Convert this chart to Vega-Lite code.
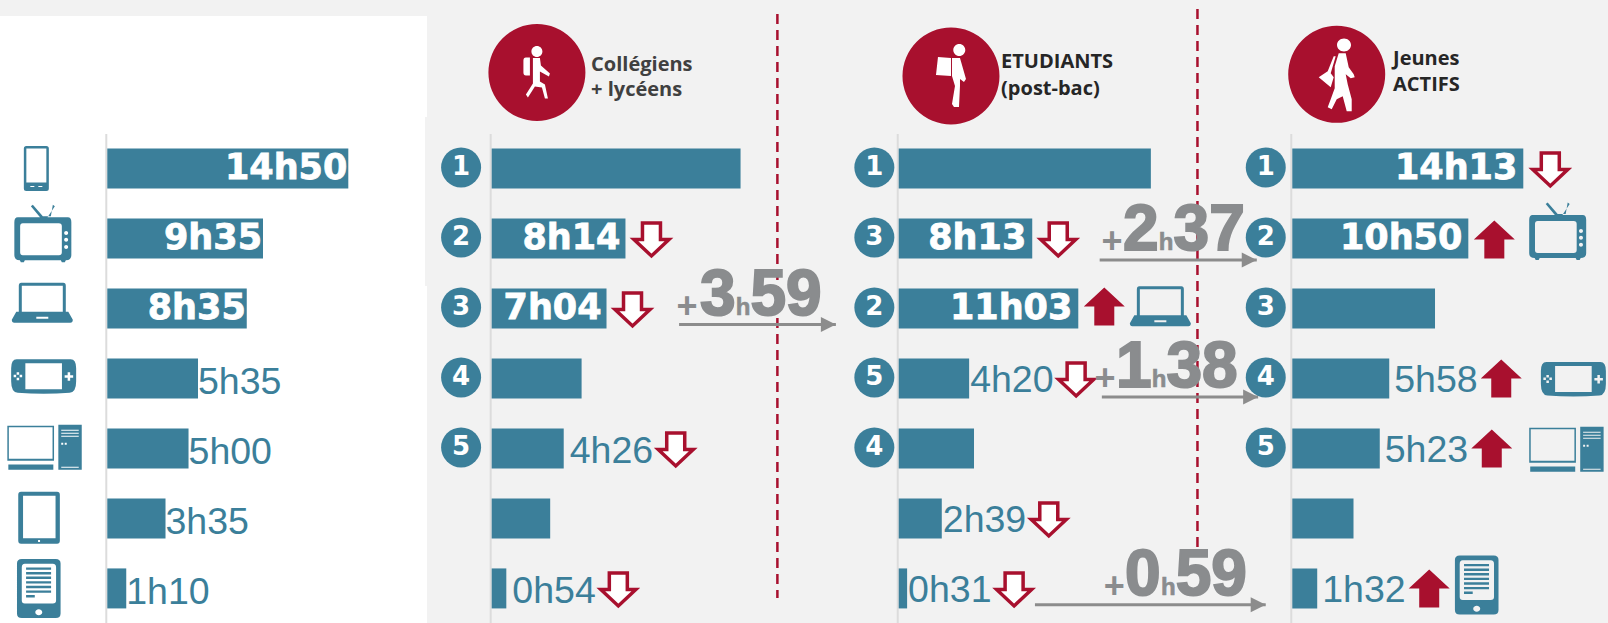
{
"$schema":"https://vega.github.io/schema/vega-lite/v6.json",
"background":"#f2f2f2","padding":0,"spacing":0,"bounds":"flush",
"config":{"view":{"stroke":null},"text":{"font":"Liberation Sans"}},
"datasets":{
"bars":[
{"panel":"A","row":1,"minutes":890,"label":"14h50","place":"in"},
{"panel":"A","row":2,"minutes":575,"label":"9h35","place":"in"},
{"panel":"A","row":3,"minutes":515,"label":"8h35","place":"in"},
{"panel":"A","row":4,"minutes":335,"label":"5h35","place":"out"},
{"panel":"A","row":5,"minutes":300,"label":"5h00","place":"out"},
{"panel":"A","row":6,"minutes":215,"label":"3h35","place":"out"},
{"panel":"A","row":7,"minutes":70,"label":"1h10","place":"out"},
{"panel":"B","row":1,"minutes":919},
{"panel":"B","row":2,"minutes":494,"label":"8h14","place":"in","trend":"down"},
{"panel":"B","row":3,"minutes":424,"label":"7h04","place":"in","trend":"down"},
{"panel":"B","row":4,"minutes":332},
{"panel":"B","row":5,"minutes":266,"label":"4h26","place":"out","trend":"down"},
{"panel":"B","row":6,"minutes":216},
{"panel":"B","row":7,"minutes":54,"label":"0h54","place":"out","trend":"down"},
{"panel":"C","row":1,"minutes":931},
{"panel":"C","row":2,"minutes":493,"label":"8h13","place":"in","trend":"down"},
{"panel":"C","row":3,"minutes":663,"label":"11h03","place":"in","trend":"up"},
{"panel":"C","row":4,"minutes":260,"label":"4h20","place":"out","trend":"down"},
{"panel":"C","row":5,"minutes":278},
{"panel":"C","row":6,"minutes":159,"label":"2h39","place":"out","trend":"down"},
{"panel":"C","row":7,"minutes":31,"label":"0h31","place":"out","trend":"down"},
{"panel":"D","row":1,"minutes":853,"label":"14h13","place":"in","trend":"down"},
{"panel":"D","row":2,"minutes":650,"label":"10h50","place":"in","trend":"up"},
{"panel":"D","row":3,"minutes":527},
{"panel":"D","row":4,"minutes":358,"label":"5h58","place":"out","trend":"up"},
{"panel":"D","row":5,"minutes":323,"label":"5h23","place":"out","trend":"up"},
{"panel":"D","row":6,"minutes":226},
{"panel":"D","row":7,"minutes":92,"label":"1h32","place":"out","trend":"up"}
],
"ranks":[
{"panel":"B","row":1,"minutes":-113,"rank":"1"},{"panel":"B","row":2,"minutes":-113,"rank":"2"},{"panel":"B","row":3,"minutes":-113,"rank":"3"},{"panel":"B","row":4,"minutes":-113,"rank":"4"},{"panel":"B","row":5,"minutes":-113,"rank":"5"},
{"panel":"C","row":1,"minutes":-90,"rank":"1"},{"panel":"C","row":2,"minutes":-90,"rank":"3"},{"panel":"C","row":3,"minutes":-90,"rank":"2"},{"panel":"C","row":4,"minutes":-90,"rank":"5"},{"panel":"C","row":5,"minutes":-90,"rank":"4"},
{"panel":"D","row":1,"minutes":-98,"rank":"1"},{"panel":"D","row":2,"minutes":-98,"rank":"2"},{"panel":"D","row":3,"minutes":-98,"rank":"3"},{"panel":"D","row":4,"minutes":-98,"rank":"4"},{"panel":"D","row":5,"minutes":-98,"rank":"5"}
],
"icons":[
{"panel":"A","row":1,"minutes":-262,"icon":"phone"},
{"panel":"A","row":1.94,"minutes":-238,"icon":"tv"},
{"panel":"A","row":2.92,"minutes":-240,"icon":"laptop"},
{"panel":"A","row":3.97,"minutes":-235,"icon":"console"},
{"panel":"A","row":4.99,"minutes":-231,"icon":"desktop"},
{"panel":"A","row":5.99,"minutes":-252,"icon":"tablet"},
{"panel":"A","row":7,"minutes":-253,"icon":"ereader"},
{"panel":"C","row":2.97,"minutes":966,"icon":"laptop"},
{"panel":"D","row":1.91,"minutes":980,"icon":"tv"},
{"panel":"D","row":4.01,"minutes":1038,"icon":"console"},
{"panel":"D","row":5.02,"minutes":1013,"icon":"desktop"},
{"panel":"D","row":6.95,"minutes":681,"icon":"ereader"}
],
"gains":[
{"panel":"B","row":3.231,"minutes":928,"start":692,"end":1271,"hours":"3","mins":"59"},
{"panel":"C","row":2.309,"minutes":987,"start":742,"end":1322,"hours":"2","mins":"37"},
{"panel":"C","row":4.266,"minutes":961,"start":750,"end":1327,"hours":"1","mins":"38"},
{"panel":"C","row":7.233,"minutes":995,"start":503,"end":1355,"hours":"0","mins":"59"}
],
"headers":[
{"panel":"B","row":-0.396,"minutes":367,"line":"Collégiens"},
{"panel":"B","row":-0.034,"minutes":367,"line":"+ lycéens"},
{"panel":"C","row":-0.43,"minutes":378,"line":"ETUDIANTS"},
{"panel":"C","row":-0.056,"minutes":378,"line":"(post-bac)"},
{"panel":"D","row":-0.477,"minutes":372,"line":"Jeunes"},
{"panel":"D","row":-0.106,"minutes":372,"line":"ACTIFS"}
],
"persons":[
{"panel":"B","row":-0.37,"minutes":167},
{"panel":"C","row":-0.32,"minutes":193},
{"panel":"D","row":-0.344,"minutes":164}
],
"spines":[
{"panel":"A","minutes":0,"row":0.509,"rowEnd":7.494},
{"panel":"B","minutes":0,"row":0.509,"rowEnd":7.494},
{"panel":"C","minutes":0,"row":0.509,"rowEnd":7.494},
{"panel":"D","minutes":0,"row":0.509,"rowEnd":7.494}
],
"dividers":[
{"panel":"B","minutes":1055,"row":-1.206,"rowEnd":7.137},
{"panel":"C","minutes":1103,"row":-1.277,"rowEnd":6.537}
],
"sheets":[
{"minutes":-396.2,"end":1180.6,"row":-1.177,"rowEnd":0.266},
{"minutes":-396.2,"end":1173,"row":0.266,"rowEnd":2.68},
{"minutes":-396.2,"end":1180.6,"row":2.68,"rowEnd":7.494}
]
},
"hconcat":[
{"width":427,"height":623,
"encoding":{
"x":{"field":"minutes","type":"quantitative","axis":null,"scale":{"domain":[-396.2,1180.6],"nice":false,"zero":false}},
"y":{"field":"row","type":"quantitative","axis":null,"scale":{"domain":[-1.406,7.494],"reverse":true,"nice":false,"zero":false,"padding":0}}},
"layer":[
{"data":{"name":"sheets"},"mark":{"type":"rect","fill":"#ffffff"},"encoding":{"x2":{"field":"end"},"y2":{"field":"rowEnd"}}},
{"data":{"name":"spines"},"transform":[{"filter":"datum.panel==='A'"}],"mark":{"type":"rule","color":"#dcdcdc","strokeWidth":2,"xOffset":-1},"encoding":{"y2":{"field":"rowEnd"}}},
{"data":{"name":"bars"},"transform":[{"filter":"datum.panel==='A'"}],"mark":{"type":"bar","orient":"horizontal","height":40,"fill":"#3b7f9a"}},
{"data":{"name":"bars"},"transform":[{"filter":"datum.panel==='A'&&datum.place==='in'"}],"mark":{"type":"text","align":"right","baseline":"middle","dx":-1,"font":"DejaVu Sans","fontWeight":"bold","fontSize":35,"fill":"#ffffff","stroke":"#ffffff","strokeWidth":0.8},"encoding":{"text":{"field":"label"}}},
{"data":{"name":"bars"},"transform":[{"filter":"datum.panel==='A'&&datum.place==='out'"}],"mark":{"type":"text","align":"left","baseline":"middle","dx":0,"dy":4.5,"fontSize":37.5,"fill":"#3b7f9a"},"encoding":{"text":{"field":"label"}}},
{"data":{"name":"icons"},"transform":[{"filter":"datum.panel==='A'"}],"mark":{"type":"point","filled":true,"size":4,"opacity":1,"fill":"#3b7f9a"},"encoding":{"shape":{"field":"icon","type":"nominal","legend":null,"scale":{"domain":["phone","tv","laptop","console","desktop","tablet","ereader"],"range":[
"M-10,-22.5H10Q12.5,-22.5 12.5,-20V20Q12.5,22.5 10,22.5H-10Q-12.5,22.5 -12.5,20V-20Q-12.5,-22.5 -10,-22.5Z M-10,-20V14H10V-20Z M-6,17.5V18.5H-2V17.5Z M2,17.5V18.5H6V17.5Z",
"M-25,-17H25Q28.5,-17 28.5,-12V21Q28.5,26 23,26L22,28H19L18,26H-18L-19,28H-22L-23,26Q-28.5,26 -28.5,21V-12Q-28.5,-17 -25,-17Z M-20,-11Q-22.7,-11 -22.7,-8V18Q-22.7,21 -20,21H16Q19,21 19,18V-8Q19,-11 16,-11Z M21.3,-1.2a2,2 0 1,0 4,0a2,2 0 1,0 -4,0Z M21.3,5.6a2,2 0 1,0 4,0a2,2 0 1,0 -4,0Z M21.3,12.7a2,2 0 1,0 4,0a2,2 0 1,0 -4,0Z M-12,-28L-10,-29.5L0,-18L8,-18L10,-29.5L12,-28L4,-16H-2Z",
"M-21,-20H21Q23.5,-20 23.5,-17V9H26L30.5,17Q30.5,20 28,20H-28Q-30.5,20 -30.5,17L-26,9H-23.5V-17Q-23.5,-20 -21,-20Z M-20.5,-17V9H20.5V-17Z M-6,14V16H6V14Z",
"M-27,-17H27Q32.5,-17 32.5,-8V5Q32.5,16 26,16.5Q0,18.5 -26,16.5Q-32.5,16 -32.5,5V-8Q-32.5,-17 -27,-17Z M-18.3,-13V13H18.3V-13Z M24,-4V-1H21V1.5H24V4.5H26.5V1.5H29.5V-1H26.5V-4Z M-27,-4V-1.5H-24.5V-4Z M-27,1.5V4H-24.5V1.5Z M-30,-1.5V1H-27.5V-1.5Z M-24,-1.5V1H-21.5V-1.5Z",
"M-37.4,-22H9.3V13H-26.4V16.8H8.6V22H-36.4V16.8H-26.4V13H-37.4Z M-35.9,-20.5V11H7.8V-20.5Z M13.6,-23H37V22H13.6Z M16.5,-18V-17H34V-18Z M16.5,-15V-14H34V-15Z M16.5,-12V-11H34V-12Z M16.5,-5V-3H18.5V-5Z M20,-5V-3H22V-5Z M16.5,19V20H34V19Z",
"M-18,-26H18Q20.8,-26 20.8,-23V23Q20.8,26 18,26H-18Q-20.8,26 -20.8,23V-23Q-20.8,-26 -18,-26Z M-16,-22V20.5H16.5V-22Z M-1,22.2V24.2H1V22.2Z",
"M-17,-29.5H17Q21.8,-29.5 21.8,-25V25Q21.8,29.5 17,29.5H-17Q-21.8,29.5 -21.8,25V-25Q-21.8,-29.5 -17,-29.5Z M-14,-24.6Q-17,-24.6 -17,-21V12Q-17,15 -14,15H14Q17.3,15 17.3,12V-21Q17.3,-24.6 14,-24.6Z M-12.7,-21H12.3V-18.6H-12.7Z M-12.7,-16.4H12.3V-14H-12.7Z M-12.7,-11.8H12.3V-9.4H-12.7Z M-12.7,-7.2H12.3V-4.8H-12.7Z M-12.7,-2.6H12.3V-0.2H-12.7Z M-12.7,2H12.3V4.4H-12.7Z M-12.7,6.6H-4V9H-12.7Z M-3.5,23.8a3.5,3 0 1,0 7,0a3.5,3 0 1,0 -7,0Z"
]}}}}
]},
{"width":430,"height":623,
"encoding":{
"x":{"field":"minutes","type":"quantitative","axis":null,"scale":{"domain":[-238.9,1349],"nice":false,"zero":false}},
"y":{"field":"row","type":"quantitative","axis":null,"scale":{"domain":[-1.406,7.494],"reverse":true,"nice":false,"zero":false,"padding":0}}},
"layer":[
{"data":{"name":"spines"},"transform":[{"filter":"datum.panel==='B'"}],"mark":{"type":"rule","color":"#dcdcdc","strokeWidth":2,"xOffset":-1},"encoding":{"y2":{"field":"rowEnd"}}},
{"data":{"name":"dividers"},"transform":[{"filter":"datum.panel==='B'"}],"mark":{"type":"rule","color":"#a8102e","strokeWidth":2.5,"strokeDash":[10,6]},"encoding":{"y2":{"field":"rowEnd"}}},
{"data":{"name":"bars"},"transform":[{"filter":"datum.panel==='B'"}],"mark":{"type":"bar","orient":"horizontal","height":40,"fill":"#3b7f9a"}},
{"data":{"name":"bars"},"transform":[{"filter":"datum.panel==='B'&&datum.place==='in'"}],"mark":{"type":"text","align":"right","baseline":"middle","dx":-5,"font":"DejaVu Sans","fontWeight":"bold","fontSize":35,"fill":"#ffffff","stroke":"#ffffff","strokeWidth":0.8},"encoding":{"text":{"field":"label"}}},
{"data":{"name":"bars"},"transform":[{"filter":"datum.panel==='B'&&datum.place==='out'"}],"mark":{"type":"text","align":"left","baseline":"middle","dx":6,"dy":4,"fontSize":37.5,"fill":"#3b7f9a"},"encoding":{"text":{"field":"label"}}},
{"data":{"name":"bars"},"transform":[{"filter":"datum.panel==='B'&&datum.place==='in'&&datum.trend==='down'"}],"mark":{"type":"point","filled":true,"size":4,"opacity":1,"fill":"#ffffff","stroke":"#a8102e","strokeWidth":3.5,"xOffset":26,"yOffset":2,"shape":"M-9,-17.5H9V-1H17.5L0,15.5L-17.5,-1H-9Z"}},
{"data":{"name":"bars"},"transform":[{"filter":"datum.panel==='B'&&datum.place==='out'&&datum.trend==='down'"}],"mark":{"type":"point","filled":true,"size":4,"opacity":1,"fill":"#ffffff","stroke":"#a8102e","strokeWidth":3.5,"xOffset":112,"yOffset":2,"shape":"M-9,-17.5H9V-1H17.5L0,15.5L-17.5,-1H-9Z"}},
{"data":{"name":"ranks"},"transform":[{"filter":"datum.panel==='B'"}],"mark":{"type":"point","shape":"circle","filled":true,"size":1600,"opacity":1,"fill":"#3b7f9a","yOffset":-1}},
{"data":{"name":"ranks"},"transform":[{"filter":"datum.panel==='B'"}],"mark":{"type":"text","align":"center","baseline":"middle","dy":-1,"font":"DejaVu Sans","fontWeight":"bold","fontSize":26,"fill":"#ffffff"},"encoding":{"text":{"field":"rank"}}},
{"data":{"name":"persons"},"transform":[{"filter":"datum.panel==='B'"}],"mark":{"type":"point","shape":"circle","filled":true,"size":9409,"opacity":1,"fill":"#a8102e"}},
{"data":{"name":"persons"},"transform":[{"filter":"datum.panel==='B'"}],"mark":{"type":"point","filled":true,"size":4,"opacity":1,"fill":"#ffffff","shape":"M-5.5,-21a5.5,5.5 0 1,1 11,0a5.5,5.5 0 1,1 -11,0Z M-11,-15H-7V3H-11Q-13.5,3 -13.5,0V-12Q-13.5,-15 -11,-15Z M-4,-14.5H3L4,-7L13,1L12,4L3,-1L3,9L8,12L11,26L8,26L5,15L-2,14L-9,25L-11,22L-4,11Z"}},
{"data":{"name":"headers"},"transform":[{"filter":"datum.panel==='B'"}],"mark":{"type":"text","align":"left","baseline":"alphabetic","font":"Open Sans","fontWeight":"bold","fontSize":20,"fill":"#404040"},"encoding":{"text":{"field":"line"}}},
{"data":{"name":"gains"},"transform":[{"filter":"datum.panel==='B'"}],"mark":{"type":"rule","color":"#8c8c8c","strokeWidth":3},"encoding":{"x":{"field":"start","type":"quantitative","axis":null,"scale":{"domain":[-238.9,1349],"nice":false,"zero":false}},"x2":{"field":"end"}}},
{"data":{"name":"gains"},"transform":[{"filter":"datum.panel==='B'"}],"mark":{"type":"point","filled":true,"size":4,"opacity":1,"fill":"#8c8c8c","shape":"M-15,-7.5L0,0L-15,7.5Z"},"encoding":{"x":{"field":"end","type":"quantitative","axis":null,"scale":{"domain":[-238.9,1349],"nice":false,"zero":false}}}},
{"data":{"name":"gains"},"transform":[{"filter":"datum.panel==='B'"}],"mark":{"type":"text","text":"h","align":"center","baseline":"alphabetic","dy":-10,"fontWeight":"bold","fontSize":24,"fill":"#8a8c8e","stroke":"#8a8c8e","strokeWidth":0.6}},
{"data":{"name":"gains"},"transform":[{"filter":"datum.panel==='B'"}],"mark":{"type":"text","text":"+","align":"center","baseline":"alphabetic","dx":-56,"dy":-7,"fontWeight":"bold","fontSize":36,"fill":"#8a8c8e"}},
{"data":{"name":"gains"},"transform":[{"filter":"datum.panel==='B'"}],"mark":{"type":"text","align":"right","baseline":"alphabetic","dx":-7.5,"dy":-10,"fontWeight":"bold","fontSize":64,"fill":"#8a8c8e","stroke":"#8a8c8e","strokeWidth":2},"encoding":{"text":{"field":"hours"}}},
{"data":{"name":"gains"},"transform":[{"filter":"datum.panel==='B'"}],"mark":{"type":"text","align":"left","baseline":"alphabetic","dx":7.5,"dy":-10,"fontWeight":"bold","fontSize":64,"fill":"#8a8c8e","stroke":"#8a8c8e","strokeWidth":2},"encoding":{"text":{"field":"mins"}}}
]},
{"width":393,"height":623,
"encoding":{
"x":{"field":"minutes","type":"quantitative","axis":null,"scale":{"domain":[-154,1297],"nice":false,"zero":false}},
"y":{"field":"row","type":"quantitative","axis":null,"scale":{"domain":[-1.406,7.494],"reverse":true,"nice":false,"zero":false,"padding":0}}},
"layer":[
{"data":{"name":"spines"},"transform":[{"filter":"datum.panel==='C'"}],"mark":{"type":"rule","color":"#dcdcdc","strokeWidth":2,"xOffset":-1},"encoding":{"y2":{"field":"rowEnd"}}},
{"data":{"name":"dividers"},"transform":[{"filter":"datum.panel==='C'"}],"mark":{"type":"rule","color":"#a8102e","strokeWidth":2.5,"strokeDash":[10,6]},"encoding":{"y2":{"field":"rowEnd"}}},
{"data":{"name":"bars"},"transform":[{"filter":"datum.panel==='C'"}],"mark":{"type":"bar","orient":"horizontal","height":40,"fill":"#3b7f9a"}},
{"data":{"name":"bars"},"transform":[{"filter":"datum.panel==='C'&&datum.place==='in'"}],"mark":{"type":"text","align":"right","baseline":"middle","dx":-6,"font":"DejaVu Sans","fontWeight":"bold","fontSize":35,"fill":"#ffffff","stroke":"#ffffff","strokeWidth":0.8},"encoding":{"text":{"field":"label"}}},
{"data":{"name":"bars"},"transform":[{"filter":"datum.panel==='C'&&datum.place==='out'"}],"mark":{"type":"text","align":"left","baseline":"middle","dx":1,"dy":2.5,"fontSize":37.5,"fill":"#3b7f9a"},"encoding":{"text":{"field":"label"}}},
{"data":{"name":"bars"},"transform":[{"filter":"datum.panel==='C'&&datum.place==='in'&&datum.trend==='down'"}],"mark":{"type":"point","filled":true,"size":4,"opacity":1,"fill":"#ffffff","stroke":"#a8102e","strokeWidth":3.5,"xOffset":26,"yOffset":2,"shape":"M-9,-17.5H9V-1H17.5L0,15.5L-17.5,-1H-9Z"}},
{"data":{"name":"bars"},"transform":[{"filter":"datum.panel==='C'&&datum.place==='out'&&datum.trend==='down'"}],"mark":{"type":"point","filled":true,"size":4,"opacity":1,"fill":"#ffffff","stroke":"#a8102e","strokeWidth":3.5,"xOffset":107,"yOffset":2,"shape":"M-9,-17.5H9V-1H17.5L0,15.5L-17.5,-1H-9Z"}},
{"data":{"name":"bars"},"transform":[{"filter":"datum.panel==='C'&&datum.place==='in'&&datum.trend==='up'"}],"mark":{"type":"point","filled":true,"size":4,"opacity":1,"fill":"#a8102e","xOffset":26,"yOffset":-2,"shape":"M-20.5,0L0,-19L20.5,0H10V19H-10V0Z"}},
{"data":{"name":"ranks"},"transform":[{"filter":"datum.panel==='C'"}],"mark":{"type":"point","shape":"circle","filled":true,"size":1600,"opacity":1,"fill":"#3b7f9a","yOffset":-1}},
{"data":{"name":"ranks"},"transform":[{"filter":"datum.panel==='C'"}],"mark":{"type":"text","align":"center","baseline":"middle","dy":-1,"font":"DejaVu Sans","fontWeight":"bold","fontSize":26,"fill":"#ffffff"},"encoding":{"text":{"field":"rank"}}},
{"data":{"name":"icons"},"transform":[{"filter":"datum.panel==='C'"}],"mark":{"type":"point","filled":true,"size":4,"opacity":1,"fill":"#3b7f9a","shape":"M-21,-20H21Q23.5,-20 23.5,-17V9H26L30.5,17Q30.5,20 28,20H-28Q-30.5,20 -30.5,17L-26,9H-23.5V-17Q-23.5,-20 -21,-20Z M-20.5,-17V9H20.5V-17Z M-6,14V16H6V14Z"}},
{"data":{"name":"persons"},"transform":[{"filter":"datum.panel==='C'"}],"mark":{"type":"point","shape":"circle","filled":true,"size":9409,"opacity":1,"fill":"#a8102e"}},
{"data":{"name":"persons"},"transform":[{"filter":"datum.panel==='C'"}],"mark":{"type":"point","filled":true,"size":4,"opacity":1,"fill":"#ffffff","shape":"M2.3,-26a6,6 0 1,1 12,0a6,6 0 1,1 -12,0Z M-13,-19L0,-18L0,0L-15,-1Z M1,-18L9,-18L13,-4L15,3L13,6L9,3L9,10L8,31L3,31L1,28L4,10L1,0Z"}},
{"data":{"name":"headers"},"transform":[{"filter":"datum.panel==='C'"}],"mark":{"type":"text","align":"left","baseline":"alphabetic","font":"Open Sans","fontWeight":"bold","fontSize":20,"fill":"#262626"},"encoding":{"text":{"field":"line"}}},
{"data":{"name":"gains"},"transform":[{"filter":"datum.panel==='C'"}],"mark":{"type":"rule","color":"#8c8c8c","strokeWidth":3},"encoding":{"x":{"field":"start","type":"quantitative","axis":null,"scale":{"domain":[-154,1297],"nice":false,"zero":false}},"x2":{"field":"end"}}},
{"data":{"name":"gains"},"transform":[{"filter":"datum.panel==='C'"}],"mark":{"type":"point","filled":true,"size":4,"opacity":1,"fill":"#8c8c8c","shape":"M-15,-7.5L0,0L-15,7.5Z"},"encoding":{"x":{"field":"end","type":"quantitative","axis":null,"scale":{"domain":[-154,1297],"nice":false,"zero":false}}}},
{"data":{"name":"gains"},"transform":[{"filter":"datum.panel==='C'"}],"mark":{"type":"text","text":"h","align":"center","baseline":"alphabetic","dy":-10,"fontWeight":"bold","fontSize":24,"fill":"#8a8c8e","stroke":"#8a8c8e","strokeWidth":0.6}},
{"data":{"name":"gains"},"transform":[{"filter":"datum.panel==='C'"}],"mark":{"type":"text","text":"+","align":"center","baseline":"alphabetic","dx":-54,"dy":-7,"fontWeight":"bold","fontSize":36,"fill":"#8a8c8e"}},
{"data":{"name":"gains"},"transform":[{"filter":"datum.panel==='C'"}],"mark":{"type":"text","align":"right","baseline":"alphabetic","dx":-7.5,"dy":-10,"fontWeight":"bold","fontSize":64,"fill":"#8a8c8e","stroke":"#8a8c8e","strokeWidth":2},"encoding":{"text":{"field":"hours"}}},
{"data":{"name":"gains"},"transform":[{"filter":"datum.panel==='C'"}],"mark":{"type":"text","align":"left","baseline":"alphabetic","dx":7.5,"dy":-10,"fontWeight":"bold","fontSize":64,"fill":"#8a8c8e","stroke":"#8a8c8e","strokeWidth":2},"encoding":{"text":{"field":"mins"}}}
]},
{"width":358,"height":623,
"encoding":{
"x":{"field":"minutes","type":"quantitative","axis":null,"scale":{"domain":[-156.2,1165.8],"nice":false,"zero":false}},
"y":{"field":"row","type":"quantitative","axis":null,"scale":{"domain":[-1.406,7.494],"reverse":true,"nice":false,"zero":false,"padding":0}}},
"layer":[
{"data":{"name":"spines"},"transform":[{"filter":"datum.panel==='D'"}],"mark":{"type":"rule","color":"#dcdcdc","strokeWidth":2,"xOffset":-1},"encoding":{"y2":{"field":"rowEnd"}}},
{"data":{"name":"bars"},"transform":[{"filter":"datum.panel==='D'"}],"mark":{"type":"bar","orient":"horizontal","height":40,"fill":"#3b7f9a"}},
{"data":{"name":"bars"},"transform":[{"filter":"datum.panel==='D'&&datum.place==='in'"}],"mark":{"type":"text","align":"right","baseline":"middle","dx":-6,"font":"DejaVu Sans","fontWeight":"bold","fontSize":35,"fill":"#ffffff","stroke":"#ffffff","strokeWidth":0.8},"encoding":{"text":{"field":"label"}}},
{"data":{"name":"bars"},"transform":[{"filter":"datum.panel==='D'&&datum.place==='out'"}],"mark":{"type":"text","align":"left","baseline":"middle","dx":5,"dy":2.5,"fontSize":37.5,"fill":"#3b7f9a"},"encoding":{"text":{"field":"label"}}},
{"data":{"name":"bars"},"transform":[{"filter":"datum.panel==='D'&&datum.place==='in'&&datum.trend==='down'"}],"mark":{"type":"point","filled":true,"size":4,"opacity":1,"fill":"#ffffff","stroke":"#a8102e","strokeWidth":3.5,"xOffset":27,"yOffset":2,"shape":"M-9,-17.5H9V-1H17.5L0,15.5L-17.5,-1H-9Z"}},
{"data":{"name":"bars"},"transform":[{"filter":"datum.panel==='D'&&datum.place==='in'&&datum.trend==='up'"}],"mark":{"type":"point","filled":true,"size":4,"opacity":1,"fill":"#a8102e","xOffset":26,"yOffset":1,"shape":"M-20.5,0L0,-19L20.5,0H10V19H-10V0Z"}},
{"data":{"name":"bars"},"transform":[{"filter":"datum.panel==='D'&&datum.place==='out'&&datum.trend==='up'"}],"mark":{"type":"point","filled":true,"size":4,"opacity":1,"fill":"#a8102e","xOffset":112,"yOffset":0,"shape":"M-20.5,0L0,-19L20.5,0H10V19H-10V0Z"}},
{"data":{"name":"ranks"},"transform":[{"filter":"datum.panel==='D'"}],"mark":{"type":"point","shape":"circle","filled":true,"size":1600,"opacity":1,"fill":"#3b7f9a","yOffset":-1}},
{"data":{"name":"ranks"},"transform":[{"filter":"datum.panel==='D'"}],"mark":{"type":"text","align":"center","baseline":"middle","dy":-1,"font":"DejaVu Sans","fontWeight":"bold","fontSize":26,"fill":"#ffffff"},"encoding":{"text":{"field":"rank"}}},
{"data":{"name":"icons"},"transform":[{"filter":"datum.panel==='D'"}],"mark":{"type":"point","filled":true,"size":4,"opacity":1,"fill":"#3b7f9a"},"encoding":{"shape":{"field":"icon","type":"nominal","legend":null,"scale":{"domain":["tv","console","desktop","ereader"],"range":[
"M-25,-17H25Q28.5,-17 28.5,-12V21Q28.5,26 23,26L22,28H19L18,26H-18L-19,28H-22L-23,26Q-28.5,26 -28.5,21V-12Q-28.5,-17 -25,-17Z M-20,-11Q-22.7,-11 -22.7,-8V18Q-22.7,21 -20,21H16Q19,21 19,18V-8Q19,-11 16,-11Z M21.3,-1.2a2,2 0 1,0 4,0a2,2 0 1,0 -4,0Z M21.3,5.6a2,2 0 1,0 4,0a2,2 0 1,0 -4,0Z M21.3,12.7a2,2 0 1,0 4,0a2,2 0 1,0 -4,0Z M-12,-28L-10,-29.5L0,-18L8,-18L10,-29.5L12,-28L4,-16H-2Z",
"M-27,-17H27Q32.5,-17 32.5,-8V5Q32.5,16 26,16.5Q0,18.5 -26,16.5Q-32.5,16 -32.5,5V-8Q-32.5,-17 -27,-17Z M-18.3,-13V13H18.3V-13Z M24,-4V-1H21V1.5H24V4.5H26.5V1.5H29.5V-1H26.5V-4Z M-27,-4V-1.5H-24.5V-4Z M-27,1.5V4H-24.5V1.5Z M-30,-1.5V1H-27.5V-1.5Z M-24,-1.5V1H-21.5V-1.5Z",
"M-37.4,-22H9.3V13H-26.4V16.8H8.6V22H-36.4V16.8H-26.4V13H-37.4Z M-35.9,-20.5V11H7.8V-20.5Z M13.6,-23H37V22H13.6Z M16.5,-18V-17H34V-18Z M16.5,-15V-14H34V-15Z M16.5,-12V-11H34V-12Z M16.5,-5V-3H18.5V-5Z M20,-5V-3H22V-5Z M16.5,19V20H34V19Z",
"M-17,-29.5H17Q21.8,-29.5 21.8,-25V25Q21.8,29.5 17,29.5H-17Q-21.8,29.5 -21.8,25V-25Q-21.8,-29.5 -17,-29.5Z M-14,-24.6Q-17,-24.6 -17,-21V12Q-17,15 -14,15H14Q17.3,15 17.3,12V-21Q17.3,-24.6 14,-24.6Z M-12.7,-21H12.3V-18.6H-12.7Z M-12.7,-16.4H12.3V-14H-12.7Z M-12.7,-11.8H12.3V-9.4H-12.7Z M-12.7,-7.2H12.3V-4.8H-12.7Z M-12.7,-2.6H12.3V-0.2H-12.7Z M-12.7,2H12.3V4.4H-12.7Z M-12.7,6.6H-4V9H-12.7Z M-3.5,23.8a3.5,3 0 1,0 7,0a3.5,3 0 1,0 -7,0Z"
]}}}},
{"data":{"name":"persons"},"transform":[{"filter":"datum.panel==='D'"}],"mark":{"type":"point","shape":"circle","filled":true,"size":9409,"opacity":1,"fill":"#a8102e"}},
{"data":{"name":"persons"},"transform":[{"filter":"datum.panel==='D'"}],"mark":{"type":"point","filled":true,"size":4,"opacity":1,"fill":"#ffffff","shape":"M0.3,-29.4a7,6.5 0 1,1 14,0a7,6.5 0 1,1 -14,0Z M2,-21L9,-21L12,-7L17,0L18,3L14,4L9,0L11,10L15,25L15,37L10,37L6,22L0,25L-5,35L-9,33L-6,25L-2,14L-2,-8Z M-18,3L-9,-3L-3,-18L-1,-18L-6,-1L-3,3L-6,13Z"}},
{"data":{"name":"headers"},"transform":[{"filter":"datum.panel==='D'"}],"mark":{"type":"text","align":"left","baseline":"alphabetic","font":"Open Sans","fontWeight":"bold","fontSize":20,"fill":"#262626"},"encoding":{"text":{"field":"line"}}}
]}
]
}
